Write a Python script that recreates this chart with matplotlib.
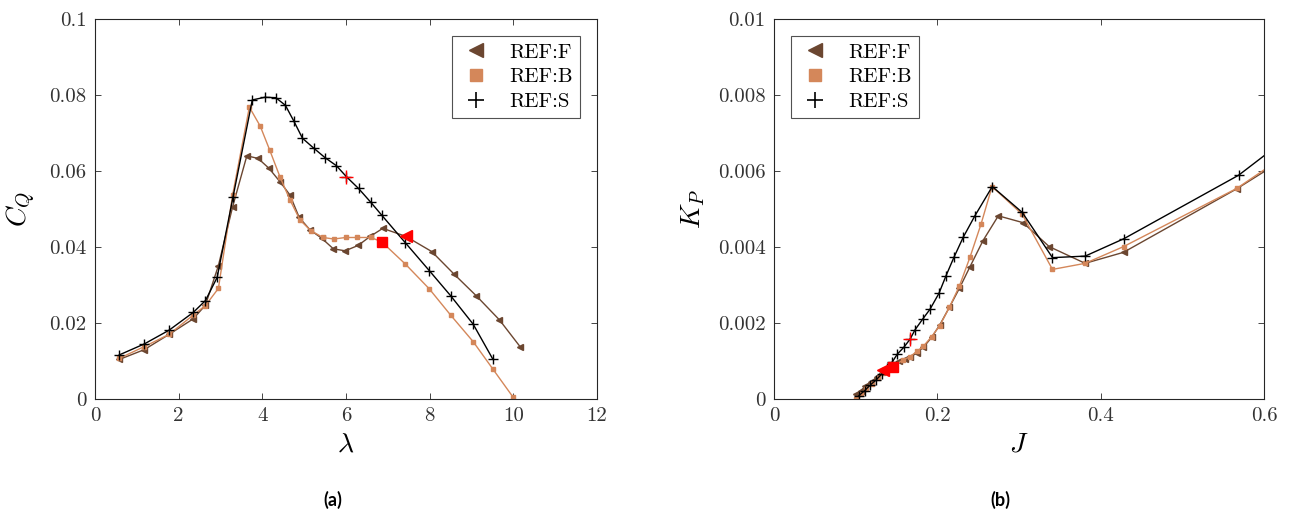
import matplotlib
matplotlib.use('Agg')
import matplotlib.pyplot as plt
from matplotlib.lines import Line2D

plt.rcParams['font.family'] = 'serif'
plt.rcParams['font.serif'] = ['cmr10', 'DejaVu Serif']
plt.rcParams['mathtext.fontset'] = 'cm'
plt.rcParams['axes.unicode_minus'] = False

BROWN = '#6b4630'
ORANGE = '#d4875a'
BLACK = '#000000'
RED = '#ff0000'

# (a) torque coefficient vs tip speed ratio
lamF = [0.58, 1.18, 1.77, 2.35, 2.64, 2.95, 3.29, 3.63, 3.90, 4.16, 4.42, 4.66, 4.88, 5.14,
        5.42, 5.70, 5.98, 6.29, 6.58, 6.88, 7.43, 8.05, 8.58, 9.12, 9.67, 10.16]
cqF = [0.0104, 0.0130, 0.0170, 0.0211, 0.0247, 0.0351, 0.0506, 0.0640, 0.0633, 0.0607, 0.0572,
       0.0537, 0.0478, 0.0445, 0.0423, 0.0395, 0.0390, 0.0404, 0.0428, 0.0449, 0.0428, 0.0388,
       0.0329, 0.0271, 0.0208, 0.0138]
lamB = [0.58, 1.18, 1.77, 2.35, 2.64, 2.95, 3.29, 3.69, 3.95, 4.18, 4.42, 4.66, 4.90, 5.16,
        5.45, 5.71, 5.99, 6.27, 6.59, 6.85, 7.42, 7.99, 8.50, 9.04, 9.51, 10.0]
cqB = [0.0107, 0.0138, 0.0170, 0.0221, 0.0246, 0.0291, 0.0537, 0.0768, 0.0718, 0.0654, 0.0585,
       0.0524, 0.0471, 0.0443, 0.0425, 0.0421, 0.0425, 0.0425, 0.0425, 0.0414, 0.0355, 0.0290,
       0.0221, 0.0151, 0.0079, 0.0004]
lamS = [0.58, 1.18, 1.77, 2.35, 2.64, 2.92, 3.30, 3.76, 4.06, 4.32, 4.55, 4.75, 4.96, 5.23,
        5.50, 5.77, 6.01, 6.30, 6.59, 6.86, 7.42, 7.99, 8.50, 9.04, 9.51]
cqS = [0.0116, 0.0145, 0.0181, 0.0228, 0.0259, 0.0320, 0.0532, 0.0787, 0.0794, 0.0793, 0.0773,
       0.0732, 0.0686, 0.0660, 0.0635, 0.0614, 0.0585, 0.0554, 0.0518, 0.0483, 0.0411, 0.0338,
       0.0272, 0.0197, 0.0105]
# highlighted design points (index into each series)
selA = {'F': 20, 'B': 19, 'S': 16}

# (b) power coefficient vs advance ratio
jF = [0.100, 0.106, 0.112, 0.119, 0.126, 0.133, 0.140, 0.147, 0.153, 0.160, 0.1665, 0.1747,
      0.183, 0.193, 0.203, 0.2147, 0.227, 0.240, 0.256, 0.2747, 0.305, 0.337, 0.381, 0.428,
      0.5665, 0.62]
kpF = [0.00012, 0.00022, 0.00033, 0.00045, 0.00058, 0.00075, 0.00085, 0.00093, 0.00100,
       0.00104, 0.00110, 0.00121, 0.00136, 0.00162, 0.00195, 0.00241, 0.00291, 0.00348,
       0.00417, 0.00482, 0.00464, 0.00401, 0.00357, 0.00386, 0.00553, 0.00625]
jB = [0.101, 0.107, 0.113, 0.120, 0.127, 0.133, 0.140, 0.146, 0.158, 0.1665, 0.1747, 0.183,
      0.193, 0.203, 0.2147, 0.227, 0.240, 0.2535, 0.267, 0.304, 0.341, 0.381, 0.428, 0.5665,
      0.62]
kpB = [0.00000, 0.00014, 0.00027, 0.00040, 0.00055, 0.00068, 0.00078, 0.00085, 0.00103,
       0.00111, 0.00125, 0.00139, 0.00164, 0.00193, 0.00241, 0.00297, 0.00373, 0.00460,
       0.00559, 0.00486, 0.00341, 0.00357, 0.00401, 0.00554, 0.00632]
jS = [0.104, 0.111, 0.118, 0.125, 0.132, 0.139, 0.145, 0.151, 0.159, 0.1665, 0.1727, 0.182,
      0.191, 0.202, 0.2106, 0.2204, 0.2318, 0.246, 0.2673, 0.304, 0.341, 0.381, 0.4286,
      0.569, 0.62]
kpS = [0.00009, 0.00022, 0.00037, 0.00050, 0.00066, 0.00081, 0.00098, 0.00118, 0.00136,
       0.00157, 0.00182, 0.00210, 0.00236, 0.00278, 0.00324, 0.00373, 0.00426, 0.00482,
       0.00559, 0.00491, 0.00372, 0.00376, 0.00422, 0.00589, 0.00673]
selB = {'F': 5, 'B': 7, 'S': 9}

fig = plt.figure(figsize=(12.91, 5.23), dpi=100)
axA = fig.add_axes([0.0736, 0.2371, 0.3888, 0.7266])
axB = fig.add_axes([0.5995, 0.2371, 0.3796, 0.7266])


def draw(ax, xF, yF, xB, yB, xS, yS, sel):
    ax.plot(xF, yF, color=BROWN, lw=1.0, marker='<', ms=4.5, clip_on=True)
    ax.plot(xB, yB, color=ORANGE, lw=1.0, marker='s', ms=3.5, mec=ORANGE, clip_on=True)
    ax.plot(xS, yS, color=BLACK, lw=1.0, marker='+', ms=7, mew=1.0, clip_on=True)
    ax.plot(xF[sel['F']], yF[sel['F']], marker='<', ms=9, color=RED, ls='none')
    ax.plot(xB[sel['B']], yB[sel['B']], marker='s', ms=7, color=RED, ls='none')
    ax.plot(xS[sel['S']], yS[sel['S']], marker='+', ms=10, mew=1.0, color=RED, ls='none')
    for s in ax.spines.values():
        s.set_color('#262626')
        s.set_linewidth(0.8)
    ax.tick_params(direction='in', top=True, right=True, length=4, width=0.6,
                   colors='#262626', labelsize=15, labelcolor='#333333', pad=6)


draw(axA, lamF, cqF, lamB, cqB, lamS, cqS, selA)
draw(axB, jF, kpF, jB, kpB, jS, kpS, selB)

axA.set_xlim(0, 12)
axA.set_ylim(0, 0.1)
axA.set_xticks([0, 2, 4, 6, 8, 10, 12], ['0', '2', '4', '6', '8', '10', '12'])
axA.set_yticks([0, 0.02, 0.04, 0.06, 0.08, 0.1], ['0', '0.02', '0.04', '0.06', '0.08', '0.1'])
axA.set_xlabel(r'$\lambda$', fontsize=20, labelpad=4)
axA.set_ylabel(r'$C_Q$', fontsize=20, labelpad=8)

axB.set_xlim(0, 0.6)
axB.set_ylim(0, 0.01)
axB.set_xticks([0, 0.2, 0.4, 0.6], ['0', '0.2', '0.4', '0.6'])
axB.set_yticks([0, 0.002, 0.004, 0.006, 0.008, 0.01],
               ['0', '0.002', '0.004', '0.006', '0.008', '0.01'])
axB.set_xlabel(r'$J$', fontsize=20, labelpad=4)
axB.set_ylabel(r'$K_P$', fontsize=20, labelpad=8)

handles = [Line2D([], [], ls='none', marker='<', ms=10, color=BROWN),
           Line2D([], [], ls='none', marker='s', ms=8, color=ORANGE),
           Line2D([], [], ls='none', marker='+', ms=12, mew=1.2, color=BLACK)]
labels = ['REF:F', 'REF:B', 'REF:S']
for ax, loc in [(axA, 'upper right'), (axB, 'upper left')]:
    leg = ax.legend(handles, labels, loc=loc, fontsize=15, frameon=True, fancybox=False,
                    edgecolor='#262626', handlelength=1.6, handletextpad=0.8,
                    borderpad=0.35, labelspacing=0.3, borderaxespad=0.8)
    leg.get_frame().set_linewidth(0.8)

fig.text(0.258, 0.033, '(a)', fontsize=13, fontweight='bold', family='Lato', ha='center')
fig.text(0.775, 0.033, '(b)', fontsize=13, fontweight='bold', family='Lato', ha='center')

fig.savefig('out.png', dpi=100)
